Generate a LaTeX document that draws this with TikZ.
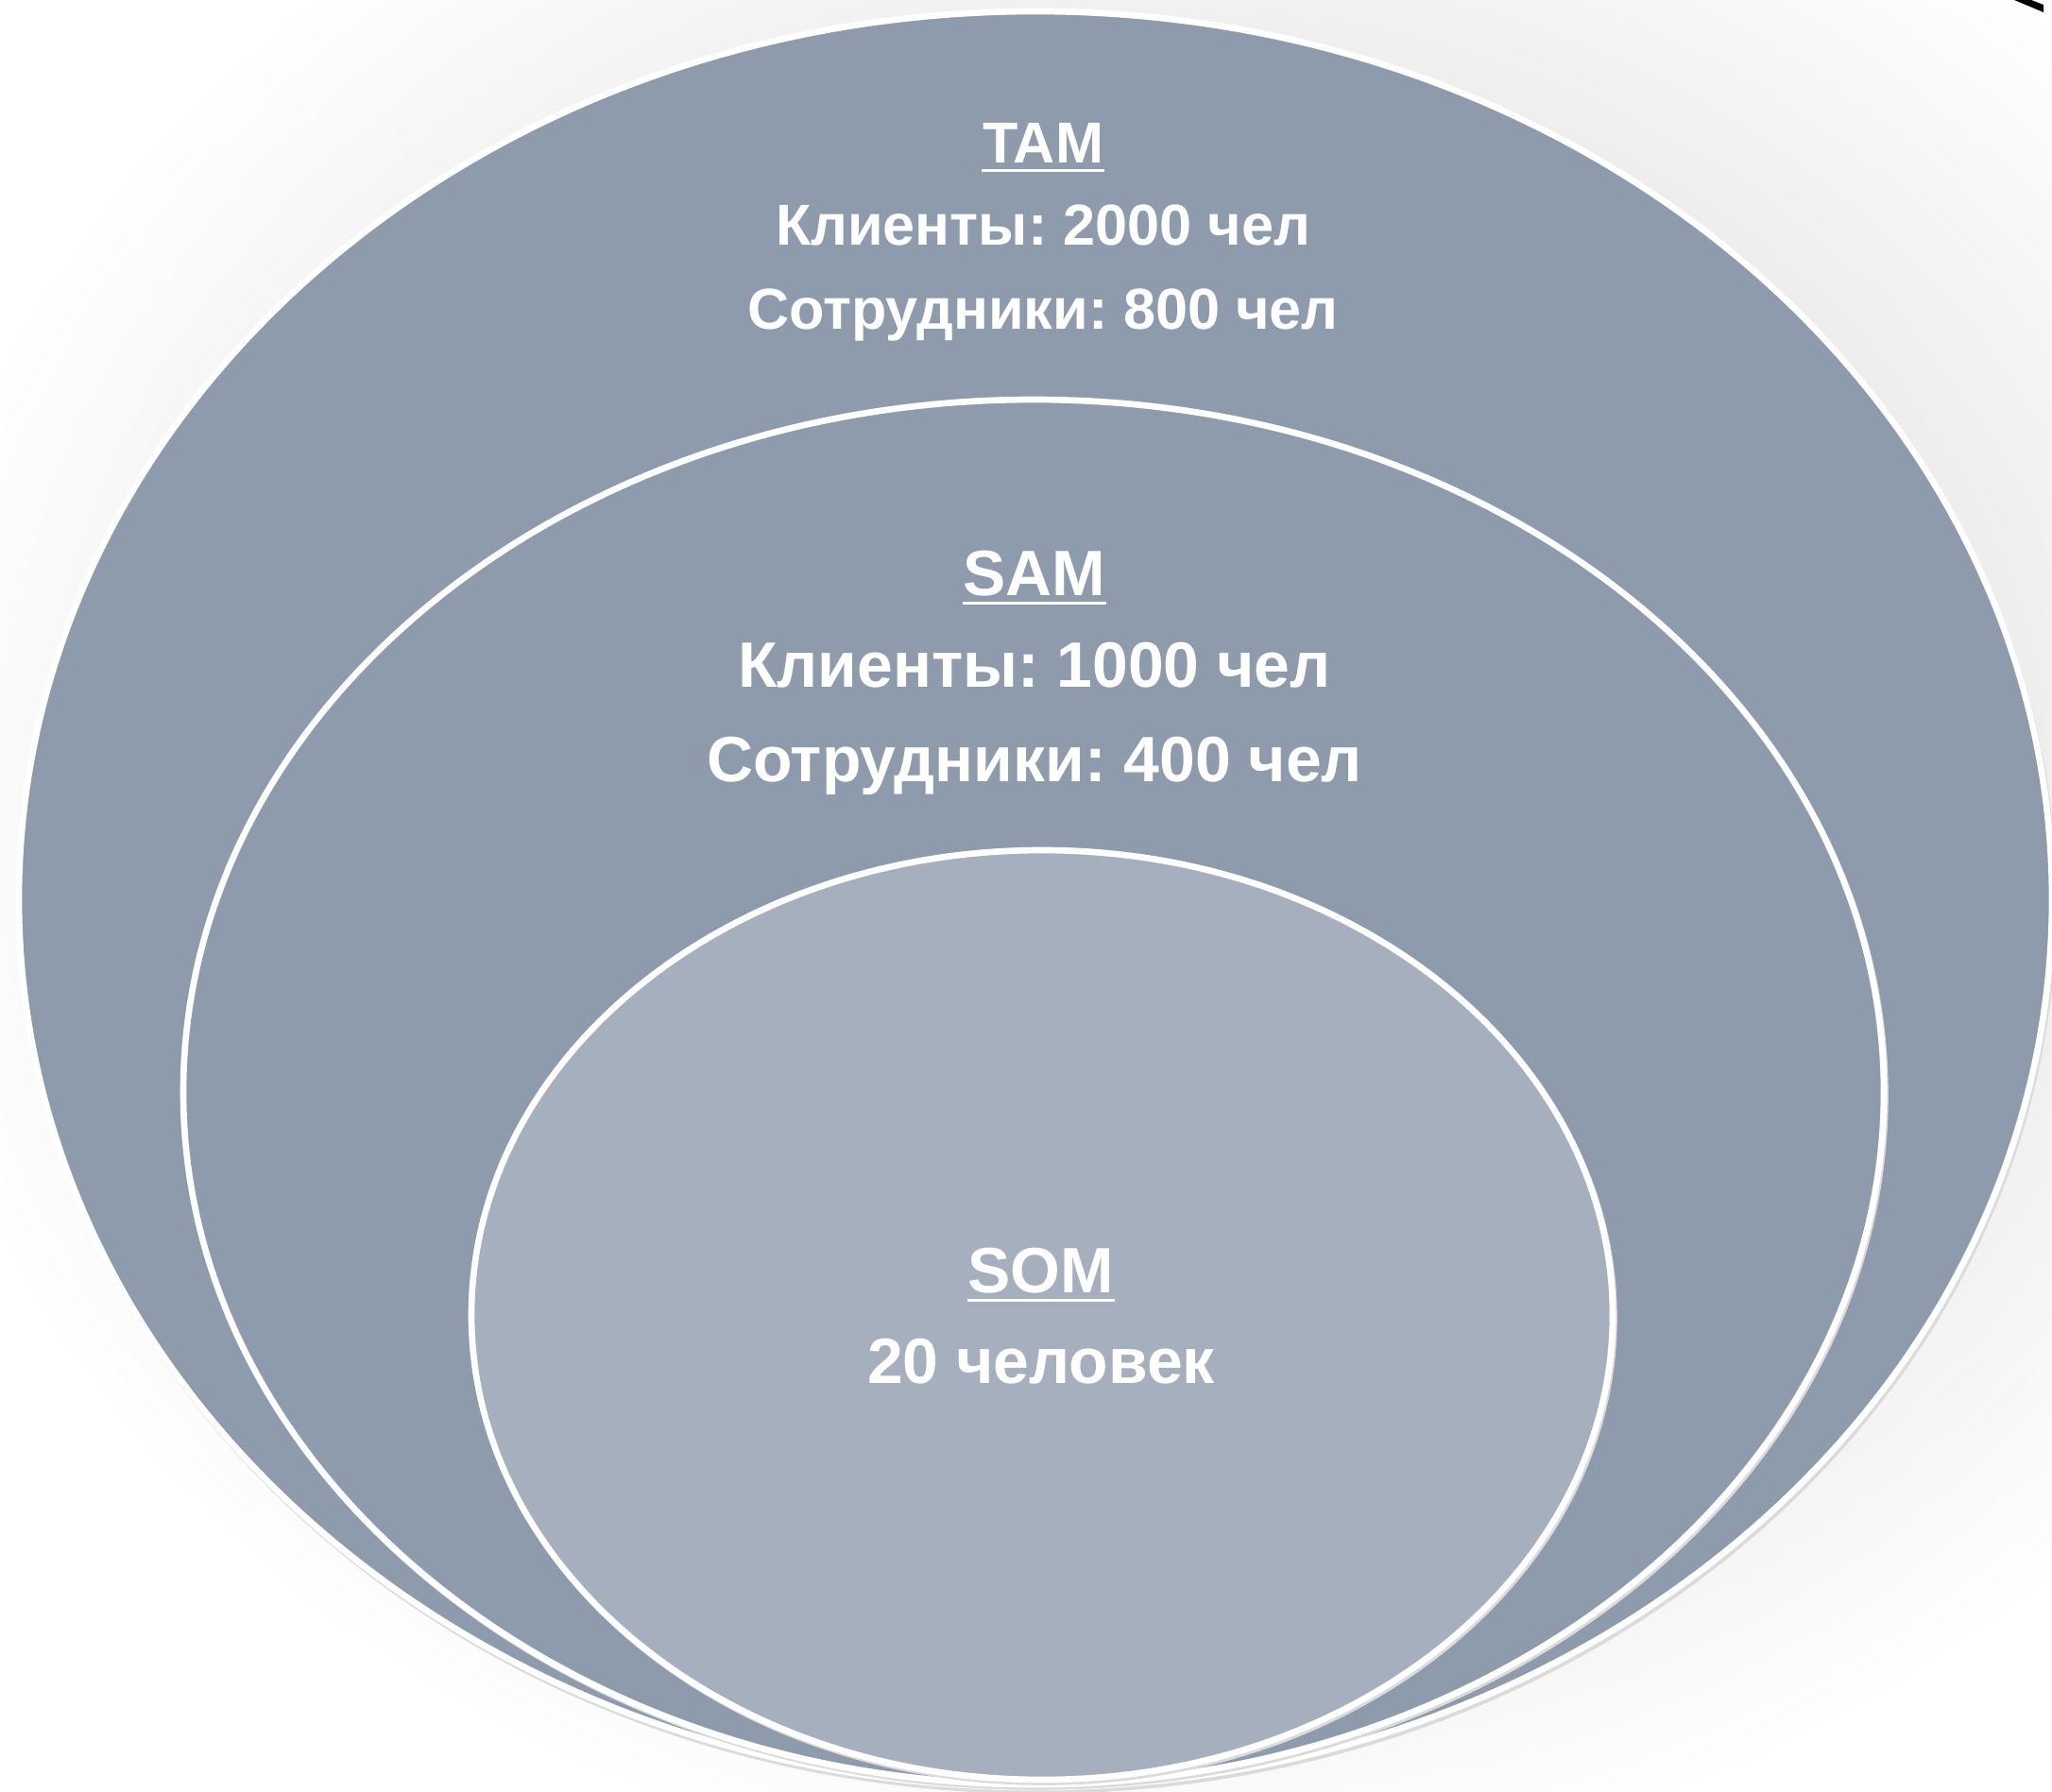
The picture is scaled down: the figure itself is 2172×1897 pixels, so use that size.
\documentclass[tikz,border=0pt]{standalone}
\usepackage{fontspec}
\setmainfont{Liberation Sans}
\frenchspacing
\definecolor{market}{HTML}{8E9BAD}
\definecolor{obtain}{HTML}{A6AFBD}
\definecolor{halo}{HTML}{C9C9C9}

\begin{document}
\begin{tikzpicture}[x=0.01cm, y=-0.01cm,
    zone/.style={draw=white, line width=1.9pt},
    drop/.style={draw=black!14, line width=1.6pt},
    lbl/.style={text=white, inner sep=0pt, anchor=base},
    small/.style={lbl, font=\bfseries\fontsize{17.4}{20}\selectfont},
    big/.style={lbl, font=\bfseries\fontsize{19.3}{22}\selectfont},
    uline/.style={draw=white, line width=0.8pt}]
    \useasboundingbox (0,0) rectangle (2172,1897);
    \fill[white] (0,0) rectangle (2172,1897);
    \shade[inner color=halo, outer color=white] (1230,850) ellipse [x radius=1350, y radius=1150];

    % TAM
    \draw[drop] (1098,956) ellipse [x radius=1076, y radius=940];
    \draw[zone, fill=market] (1096,952) ellipse [x radius=1076, y radius=940];
    % SAM
    \draw[drop] (1096,1159) ellipse [x radius=900, y radius=733];
    \draw[zone, fill=market] (1094,1156) ellipse [x radius=900, y radius=733];
    % SOM
    \draw[drop] (1105,1395) ellipse [x radius=604, y radius=492];
    \draw[zone, fill=obtain] (1103,1392) ellipse [x radius=604, y radius=492];

    \node at (1104,173) (tam) [small] {TAM};
    \node at (1104,260) (tamA) [small] {Клиенты: 2000 чел};
    \node at (1104,349) (tamB) [small] {Сотрудники: 800 чел};

    \node at (1095,630) (sam) [big] {SAM};
    \node at (1095,727) (samA) [big] {Клиенты: 1000 чел};
    \node at (1095,827) (samB) [big] {Сотрудники: 400 чел};

    \node at (1102,1368) (som) [big] {SOM};
    \node at (1102,1464) (somA) [big] {20 человек};

    \draw[uline] ([yshift=-2.2pt]tam.base west) -- ([yshift=-2.2pt]tam.base east);
    \draw[uline] ([yshift=-2.4pt]sam.base west) -- ([yshift=-2.4pt]sam.base east);
    \draw[uline] ([yshift=-2.4pt]som.base west) -- ([yshift=-2.4pt]som.base east);

    % stray mark, top right
    \fill[black] (2132,0) -- (2150,0) -- (2163,5) -- (2163,13) -- cycle;
\end{tikzpicture}
\end{document}
